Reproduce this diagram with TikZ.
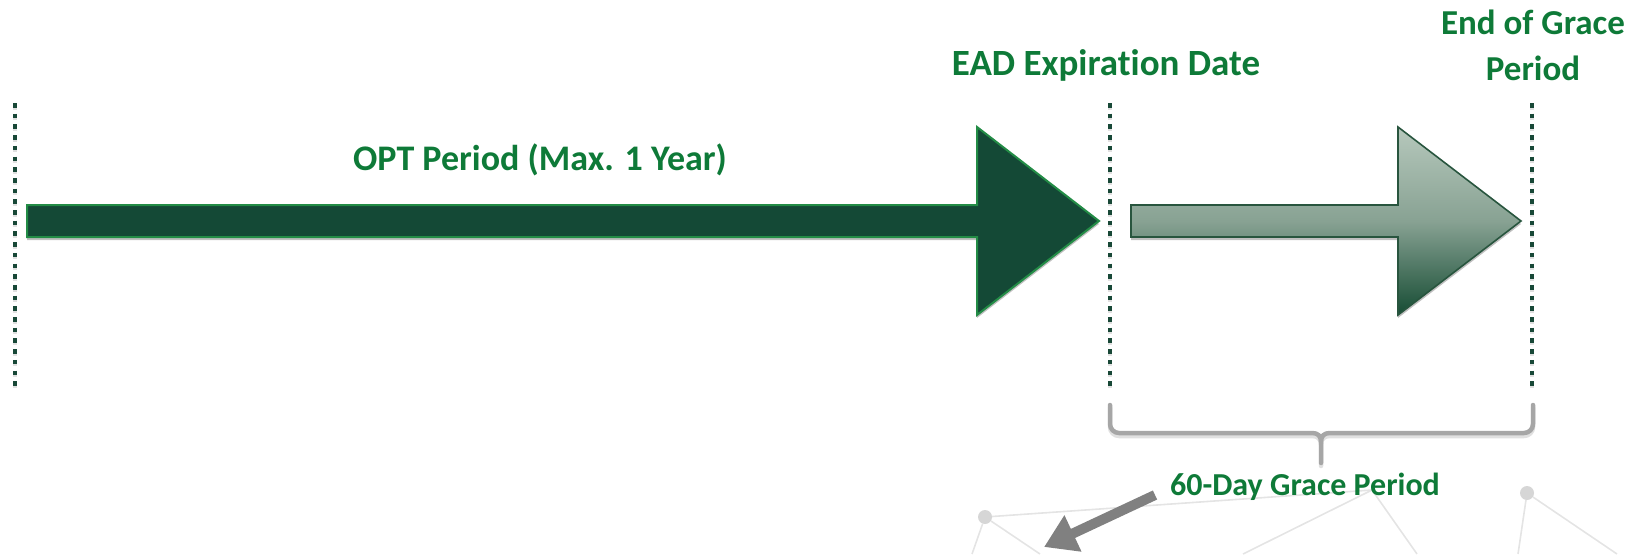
\documentclass[tikz,border=0pt]{standalone}
\usepackage{fontspec}
\setmainfont{Carlito}[Ligatures=NoCommon]
\usetikzlibrary{arrows.meta,shadows}
\definecolor{arrowdark}{RGB}{20,73,54}
\definecolor{arrowedge}{RGB}{35,140,70}
\definecolor{txtgreen}{RGB}{14,122,56}
\definecolor{dotgreen}{RGB}{24,72,55}
\definecolor{gradtop}{RGB}{182,200,188}
\definecolor{gradmid}{RGB}{136,162,147}
\definecolor{gradbot}{RGB}{22,76,52}
\definecolor{gradedge}{RGB}{40,85,62}
\definecolor{bracegray}{RGB}{166,166,166}
\definecolor{netline}{RGB}{228,228,228}
\definecolor{netnode}{RGB}{214,214,214}
\definecolor{pointgray}{RGB}{128,128,128}
\tikzset{
  lbl/.style={text=txtgreen, font=\bfseries\fontsize{37}{46}\selectfont, inner sep=0pt, anchor=base, align=center},
  dotline/.style={draw=dotgreen, line width=4.6pt, dash pattern=on 4.6pt off 6.1pt},
  dotshadow/.style={draw=black, opacity=0.12, line width=4.6pt, dash pattern=on 4.6pt off 6.1pt},
  softshadow/.style={drop shadow={shadow xshift=0pt, shadow yshift=-3pt, opacity=0.25, fill=black}},
  net/.style={draw=netline, line width=1.6pt},
  netdot/.style={circle, fill=netnode, minimum size=14pt, inner sep=0pt},
  bracepath/.style={line width=4.5pt, line cap=round, line join=round},
}
\begin{document}
\begin{tikzpicture}[x=1pt,y=-1pt]
\useasboundingbox (0,0) rectangle (1648,554);
% background network
\node[netdot] (na) at (985,517) {};
\node[netdot] (nb) at (1527,493) {};
\coordinate (nh) at (1372,490);
\coordinate (n1) at (972,554);
\coordinate (n2) at (1040,554);
\coordinate (n3) at (1243,554);
\coordinate (n4) at (1417,554);
\coordinate (n5) at (1518,554);
\coordinate (n6) at (1617,554);
\draw[net] (na) -- (nh);
\draw[net] (na) -- (n1);
\draw[net] (na) -- (n2);
\draw[net] (nh) -- (n3);
\draw[net] (nh) -- (n4);
\draw[net] (nb) -- (n5);
\draw[net] (nb) -- (n6);
% dotted markers
\coordinate (d1t) at (15,103); \coordinate (d1b) at (15,390);
\coordinate (d2t) at (1110,103); \coordinate (d2b) at (1110,390);
\coordinate (d3t) at (1532,103); \coordinate (d3b) at (1532,390);
\begin{scope}[yshift=-2pt]
\draw[dotshadow] (15,103) -- (15,390);
\draw[dotshadow] (1110,103) -- (1110,390);
\draw[dotshadow] (1532,103) -- (1532,390);
\end{scope}
\draw[dotline] (d1t) -- (d1b);
\draw[dotline] (d2t) -- (d2b);
\draw[dotline] (d3t) -- (d3b);
% main arrow
\path[softshadow, fill=arrowdark, draw=arrowedge, line width=2pt, line join=miter]
  (27,205) -- (977,205) -- (977,127) -- (1099,221) -- (977,315) -- (977,237) -- (27,237) -- cycle;
% grace arrow
\path[softshadow, top color=gradtop, bottom color=gradbot, middle color=gradmid, draw=gradedge, line width=1.6pt]
  (1131,205) -- (1398,205) -- (1398,127) -- (1521,221) -- (1398,315) -- (1398,237) -- (1131,237) -- cycle;
% brace
\coordinate (bl) at (1110,405);
\coordinate (br) at (1533,405);
\coordinate (bt) at (1321,463);
\begin{scope}[yshift=-3pt]
\draw[bracepath, black, opacity=0.12]
  (1110,405) -- (1110,424) arc[start angle=180, end angle=90, radius=9] -- (1312,433)
  .. controls (1318,433) and (1321,436) .. (1321,442) -- (1321,463)
  (1533,405) -- (1533,424) arc[start angle=0, end angle=90, radius=9] -- (1330,433)
  .. controls (1324,433) and (1321,436) .. (1321,442);
\end{scope}
\draw[bracepath, bracegray]
  (bl) -- (1110,424) arc[start angle=180, end angle=90, radius=9] -- (1312,433)
  .. controls (1318,433) and (1321,436) .. (1321,442) -- (bt)
  (br) -- (1533,424) arc[start angle=0, end angle=90, radius=9] -- (1330,433)
  .. controls (1324,433) and (1321,436) .. (1321,442);
% pointer arrow
\coordinate (pa) at (1155,495);
\coordinate (pb) at (1044,547);
\draw[pointgray, line width=10pt, -{Triangle[length=32pt,width=38pt]}] (pa) -- (pb);
% labels
\node[lbl, font=\bfseries\fontsize{36}{46}\selectfont] (opt) at (540,170) {OPT Period (Max. 1 Year)};
\node[lbl] (ead) at (1106,75) {EAD Expiration Date};
\node[lbl, font=\bfseries\fontsize{35}{46}\selectfont] (endg) at (1533,80) {End of Grace\\Period};
\node[lbl, font=\bfseries\fontsize{32}{38}\selectfont] (grace) at (1305,495) {60-Day Grace Period};
\end{tikzpicture}
\end{document}
